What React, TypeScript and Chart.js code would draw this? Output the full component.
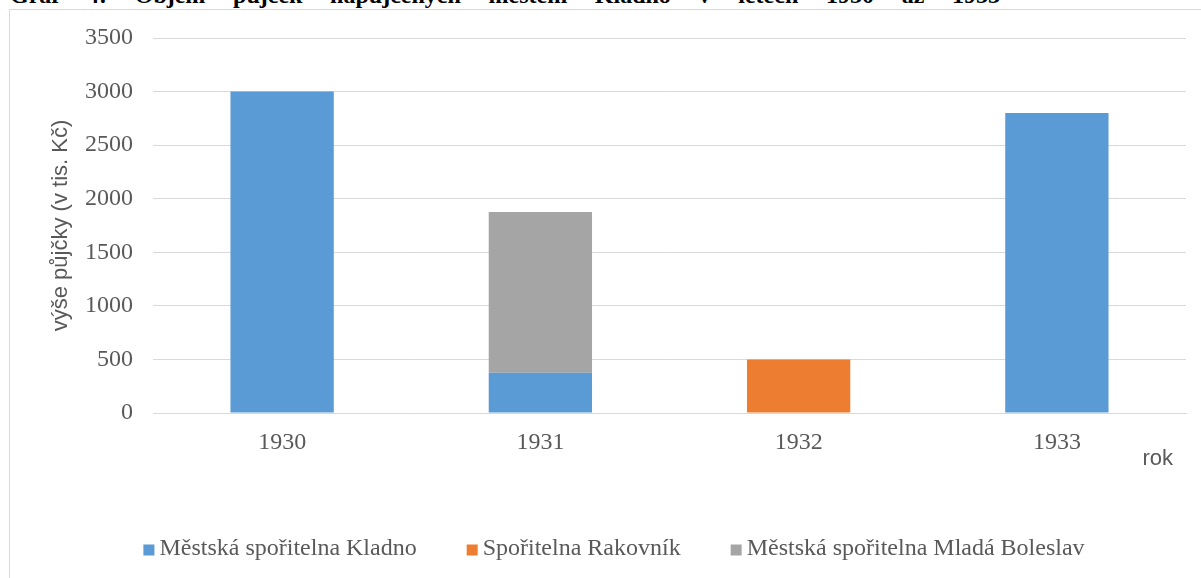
import React, { useEffect, useRef } from 'react';
import { Chart, registerables } from 'chart.js';

Chart.register(...registerables);

const categories = ['1930', '1931', '1932', '1933'];
const kladno = [3000, 375, 0, 2800];
const rakovnik = [0, 0, 500, 0];
const boleslav = [0, 1500, 0, 0];
const seriesNames = ['Městská spořitelna Kladno', 'Spořitelna Rakovník', 'Městská spořitelna Mladá Boleslav'];
const seriesColors = ['#5B9BD5', '#ED7D31', '#A5A5A5'];
const yMax = 3500;
const yStep = 500;
const yTitle = 'výše půjčky (v tis. Kč)';
const xTitle = 'rok';
const captionText = 'Graf 4: Objem půjček napůjčených městem Kladno v letech 1930 až 1933';

const TEXT_COLOR = '#595959';
const GRID_COLOR = '#d9d9d9';

const overlayPlugin = {
  id: 'overlay',
  afterDraw(chart: any) {
    const ctx = chart.ctx as CanvasRenderingContext2D;
    const area = chart.chartArea;
    ctx.save();
    // x axis title "rok"
    ctx.font = '22px "Liberation Sans"';
    ctx.fillStyle = TEXT_COLOR;
    ctx.textAlign = 'right';
    ctx.textBaseline = 'middle';
    ctx.fillText(xTitle, area.right - 13, area.bottom + 46);

    // legend
    ctx.font = '24px "Liberation Serif"';
    const items = chart.data.datasets.map((ds: any) => ({
      label: ds.label as string,
      color: ds.backgroundColor as string,
      w: ctx.measureText(ds.label).width,
    }));
    const box = 11;
    const gap = 5;
    const spacing = 50;
    const total =
      items.reduce((s: number, it: any) => s + box + gap + it.w, 0) + spacing * (items.length - 1);
    let x = 614 - total / 2;
    const y = 549;
    ctx.textAlign = 'left';
    items.forEach((it: any) => {
      ctx.fillStyle = it.color;
      ctx.fillRect(x, y - box / 2 + 1, box, box);
      x += box + gap;
      ctx.fillStyle = TEXT_COLOR;
      ctx.fillText(it.label, x, y);
      x += it.w + spacing;
    });
    ctx.restore();
  },
};

export default function App() {
  const canvasRef = useRef<HTMLCanvasElement | null>(null);

  useEffect(() => {
    if (!canvasRef.current) return;
    const data = [kladno, rakovnik, boleslav];
    const chart = new Chart(canvasRef.current, {
      type: 'bar',
      data: {
        labels: categories,
        datasets: data.map((values, i) => ({
          label: seriesNames[i],
          data: values,
          backgroundColor: seriesColors[i],
          borderWidth: 0,
          categoryPercentage: 1,
          barPercentage: 0.4,
        })),
      },
      options: {
        responsive: false,
        animation: false,
        layout: { padding: { left: 10, right: 15, top: 38, bottom: 115 } },
        plugins: {
          legend: { display: false },
          tooltip: { enabled: false },
          title: { display: false },
        },
        scales: {
          x: {
            stacked: true,
            grid: { display: false, drawTicks: false },
            border: { display: true, color: GRID_COLOR, width: 1 },
            ticks: {
              color: TEXT_COLOR,
              font: { family: '"Liberation Serif", serif', size: 24 },
              padding: 15,
            },
            afterFit(scale: any) {
              scale.height = 50;
            },
          },
          y: {
            stacked: true,
            min: 0,
            max: yMax,
            grid: { color: GRID_COLOR, lineWidth: 1, drawTicks: false },
            border: { display: false },
            ticks: {
              stepSize: yStep,
              color: TEXT_COLOR,
              font: { family: '"Liberation Serif", serif', size: 24 },
              padding: 20,
              callback: (value: any) => String(value),
            },
            title: {
              display: true,
              text: yTitle,
              color: TEXT_COLOR,
              font: { family: '"Liberation Sans", sans-serif', size: 22 },
              padding: { top: 38, bottom: 0 },
            },
            afterFit(scale: any) {
              scale.width = 143;
            },
          },
        },
      },
      plugins: [overlayPlugin],
    });
    return () => chart.destroy();
  }, []);

  return (
    <div
      style={{
        position: 'absolute',
        left: 0,
        top: 0,
        width: 1201,
        height: 578,
        overflow: 'hidden',
        background: '#ffffff',
      }}
    >
      <div
        style={{
          position: 'absolute',
          left: 10,
          top: -17,
          width: 990,
          fontFamily: '"Liberation Serif", serif',
          fontWeight: 'bold',
          fontSize: 24,
          lineHeight: '24px',
          color: '#000',
          whiteSpace: 'nowrap',
          textAlignLast: 'justify',
          textAlign: 'justify',
        }}
      >
        {captionText}
      </div>
      <div
        style={{
          position: 'absolute',
          left: 9,
          top: 9,
          width: 1200,
          height: 600,
          border: `1px solid ${GRID_COLOR}`,
          boxSizing: 'border-box',
        }}
      />
      <canvas
        ref={canvasRef}
        width={1201}
        height={578}
        style={{ position: 'absolute', left: 0, top: 0, display: 'block' }}
      />
    </div>
  );
}
